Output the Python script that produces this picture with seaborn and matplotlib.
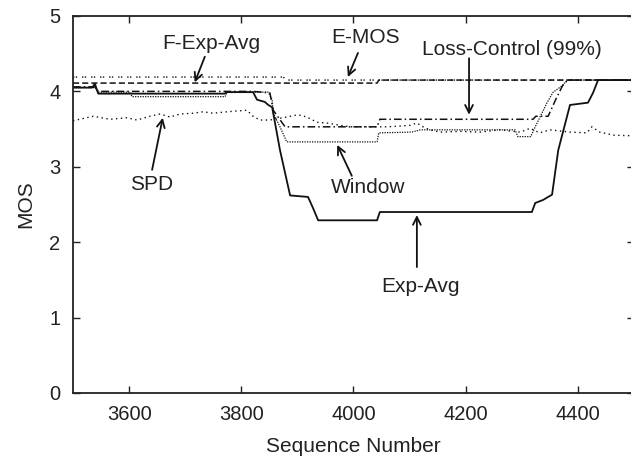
import matplotlib
matplotlib.use("Agg")
import matplotlib.pyplot as plt
import seaborn as sns

# ---- datos ----
exp_avg_x = [3500, 3534, 3539, 3545, 3771, 3773, 3821, 3828, 3842, 3848, 3855, 3869, 3887,
             3919, 3928, 3937, 4042, 4047, 4318, 4324, 4338, 4347, 4354, 4365, 4386, 4418,
             4427, 4436, 4500]
exp_avg_y = [4.05, 4.05, 4.10, 3.97, 3.97, 3.99, 3.99, 3.89, 3.86, 3.82, 3.79, 3.22, 2.62,
             2.60, 2.45, 2.29, 2.29, 2.40, 2.40, 2.52, 2.56, 2.60, 2.63, 3.22, 3.82, 3.85,
             3.98, 4.15, 4.15]

emos_x = [3500, 4042, 4045, 4500]
emos_y = [4.11, 4.11, 4.15, 4.15]

fexp_x = [3500, 3875, 3880, 4500]
fexp_y = [4.19, 4.19, 4.15, 4.15]

loss_x = [3500, 3539, 3545, 3821, 3851, 3857, 3878, 4042, 4047, 4320, 4325, 4347, 4361,
          4373, 4382, 4500]
loss_y = [4.06, 4.06, 4.00, 4.00, 3.98, 3.75, 3.53, 3.53, 3.63, 3.63, 3.67, 3.67, 3.90,
          4.08, 4.15, 4.15]

window_x = [3500, 3539, 3545, 3602, 3605, 3771, 3775, 3848, 3855, 3857, 3869, 3881, 4042,
            4045, 4104, 4119, 4288, 4293, 4316, 4324, 4345, 4356, 4373, 4381, 4500]
window_y = [4.05, 4.05, 3.99, 3.99, 3.93, 3.93, 3.99, 3.99, 3.89, 3.71, 3.53, 3.33, 3.33,
            3.45, 3.46, 3.49, 3.49, 3.40, 3.40, 3.53, 3.85, 3.99, 4.08, 4.15, 4.15]

spd_x = [3500, 3536, 3566, 3596, 3614, 3637, 3655, 3673, 3691, 3714, 3732, 3750, 3775,
         3792, 3810, 3821, 3833, 3851, 3874, 3901, 3917, 3935, 3953, 3976, 3994, 4024,
         4060, 4083, 4101, 4113, 4124, 4136, 4154, 4190, 4225, 4261, 4297, 4315, 4332,
         4350, 4386, 4416, 4425, 4439, 4463, 4500]
spd_y = [3.61, 3.67, 3.63, 3.65, 3.62, 3.67, 3.70, 3.66, 3.70, 3.71, 3.73, 3.71, 3.73,
         3.74, 3.75, 3.67, 3.62, 3.62, 3.65, 3.69, 3.66, 3.59, 3.58, 3.55, 3.53, 3.53,
         3.53, 3.54, 3.55, 3.58, 3.53, 3.49, 3.46, 3.47, 3.46, 3.49, 3.46, 3.51, 3.45,
         3.49, 3.46, 3.45, 3.53, 3.46, 3.42, 3.41]

sns.set_style("ticks")
plt.rcParams["font.family"] = ["Liberation Sans", "DejaVu Sans"]

fig = plt.figure(figsize=(6.31, 4.66), dpi=100)
ax = fig.add_axes([0.1157, 0.1567, 0.889, 0.809])

negro = "#111111"
sns.lineplot(x=spd_x, y=spd_y, ax=ax, color=negro, lw=1.0, ls=(0, (1, 2.5)), estimator=None)
sns.lineplot(x=fexp_x, y=fexp_y, ax=ax, color=negro, lw=1.0, ls=(0, (1, 1, 1, 3.5)), estimator=None)
sns.lineplot(x=emos_x, y=emos_y, ax=ax, color=negro, lw=1.1, ls=(0, (4, 2)), estimator=None)
sns.lineplot(x=window_x, y=window_y, ax=ax, color=negro, lw=0.9, ls=(0, (1, 1)), estimator=None)
sns.lineplot(x=loss_x, y=loss_y, ax=ax, color=negro, lw=1.1, ls=(0, (5, 2, 1, 2)), estimator=None)
sns.lineplot(x=exp_avg_x, y=exp_avg_y, ax=ax, color=negro, lw=1.3, ls="-", estimator=None)

ax.set_xlim(3500, 4500)
ax.set_ylim(0, 5)
ax.set_xticks([3600, 3800, 4000, 4200, 4400])
ax.set_yticks([0, 1, 2, 3, 4, 5])
ax.tick_params(direction="in", length=5, width=1, top=True, right=True,
               labelsize=14.5, pad=9, colors="#222222")
for s in ax.spines.values():
    s.set_linewidth(1.3)
    s.set_color("#222222")
ax.set_xlabel("Sequence Number", fontsize=15, labelpad=9, color="#222222")
ax.set_ylabel("MOS", fontsize=15, labelpad=10, color="#222222")

# etiquetas con flechas
flecha = dict(arrowstyle="->", color=negro, lw=1.3, shrinkA=0, shrinkB=0,
              mutation_scale=14)
anotaciones = [
    ("F-Exp-Avg", (3746, 4.64), (3735, 4.46), (3717, 4.12)),
    ("E-MOS", (4022, 4.71), (4008, 4.51), (3990, 4.19)),
    ("Loss-Control (99%)", (4283, 4.55), (4206, 4.44), (4206, 3.69)),
    ("SPD", (3641, 2.76), (3641, 2.96), (3660, 3.65)),
    ("Window", (4026, 2.72), (3997, 2.88), (3971, 3.29)),
    ("Exp-Avg", (4120, 1.41), (4113, 1.67), (4113, 2.36)),
]
for texto, pos, cola, punta in anotaciones:
    ax.annotate("", xy=punta, xytext=cola, arrowprops=flecha)
    ax.text(pos[0], pos[1], texto, ha="center", va="center", fontsize=15, color="#222222")

fig.savefig("out.png", dpi=100)
